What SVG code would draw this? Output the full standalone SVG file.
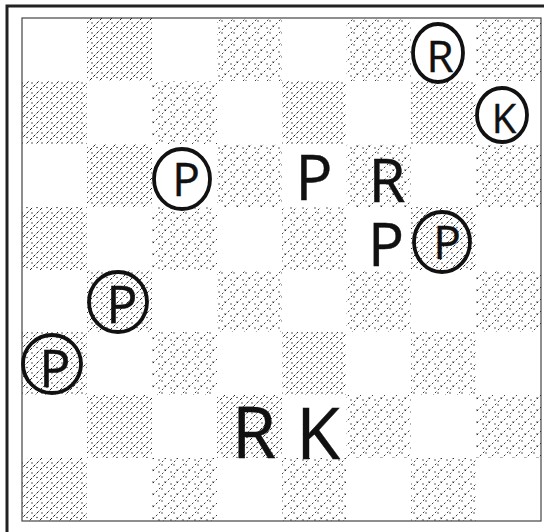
<svg xmlns="http://www.w3.org/2000/svg" width="544" height="532" viewBox="0 0 544 532">
<defs>
<pattern id="hA" width="10" height="10" patternUnits="userSpaceOnUse">
<path d="M0,10 L10,0 M-2.5,2.5 L2.5,-2.5 M7.5,12.5 L12.5,7.5" stroke="#222" stroke-width="1" stroke-dasharray="3 1.6" fill="none"/>
<circle cx="2" cy="3" r="0.7" fill="#222"/>
<circle cx="7" cy="7.5" r="0.7" fill="#222"/>
</pattern>
<pattern id="hB" width="12" height="12" patternUnits="userSpaceOnUse">
<path d="M0,12 L12,0 M-3,3 L3,-3 M9,15 L15,9" stroke="#222" stroke-width="0.9" stroke-dasharray="2 2.2" fill="none"/>
<circle cx="3" cy="4" r="0.7" fill="#222"/>
<circle cx="9" cy="2" r="0.7" fill="#222"/>
<circle cx="6" cy="9" r="0.7" fill="#222"/>
</pattern>
</defs>
<style>
.dk{fill:url(#hA);stroke:none}
.dk2{fill:url(#hB);stroke:none}
.ring{fill:none;stroke:#111;stroke-width:3.8}
.pc{font-family:"Open Sans","Liberation Sans",sans-serif;font-weight:400;fill:#111;stroke:#111;stroke-width:0.4;text-anchor:middle}
</style>
<rect x="0" y="0" width="544" height="532" fill="#fff"/>
<g id="frame">
<path d="M7,532 L7,6 L544,6" fill="none" stroke="#222" stroke-width="3"/>
<rect x="22" y="18" width="519" height="503" fill="none" stroke="#444" stroke-width="1.2"/>
</g>
<g id="squares">
<rect class="dk" x="87" y="18" width="65" height="63"/>
<rect class="dk2" x="217" y="18" width="65" height="63"/>
<rect class="dk2" x="346" y="18" width="65" height="63"/>
<rect class="dk2" x="476" y="18" width="65" height="63"/>
<rect class="dk" x="22" y="81" width="65" height="63"/>
<rect class="dk2" x="152" y="81" width="65" height="63"/>
<rect class="dk" x="282" y="81" width="64" height="63"/>
<rect class="dk" x="411" y="81" width="65" height="63"/>
<rect class="dk" x="87" y="144" width="65" height="63"/>
<rect class="dk2" x="217" y="144" width="65" height="63"/>
<rect class="dk2" x="346" y="144" width="65" height="63"/>
<rect class="dk2" x="476" y="144" width="65" height="63"/>
<rect class="dk" x="22" y="207" width="65" height="63"/>
<rect class="dk2" x="152" y="207" width="65" height="63"/>
<rect class="dk2" x="282" y="207" width="64" height="63"/>
<rect class="dk" x="411" y="207" width="65" height="63"/>
<rect class="dk" x="87" y="270" width="65" height="62"/>
<rect class="dk2" x="217" y="270" width="65" height="62"/>
<rect class="dk2" x="346" y="270" width="65" height="62"/>
<rect class="dk2" x="476" y="270" width="65" height="62"/>
<rect class="dk" x="22" y="332" width="65" height="63"/>
<rect class="dk2" x="152" y="332" width="65" height="63"/>
<rect class="dk" x="282" y="332" width="64" height="63"/>
<rect class="dk2" x="411" y="332" width="65" height="63"/>
<rect class="dk" x="87" y="395" width="65" height="63"/>
<rect class="dk" x="217" y="395" width="65" height="63"/>
<rect class="dk2" x="346" y="395" width="65" height="63"/>
<rect class="dk2" x="476" y="395" width="65" height="63"/>
<rect class="dk" x="22" y="458" width="65" height="63"/>
<rect class="dk2" x="152" y="458" width="65" height="63"/>
<rect class="dk2" x="282" y="458" width="64" height="63"/>
<rect class="dk2" x="411" y="458" width="65" height="63"/>
</g>
<g id="pieces">
<g id="rook-circled"><ellipse class="ring" cx="438" cy="53" rx="25" ry="29"/><text class="pc" x="440" y="72" font-size="44">R</text></g>
<g id="king-circled"><ellipse class="ring" cx="502" cy="115" rx="25" ry="27"/><text class="pc" x="504" y="133" font-size="40">K</text></g>
<g id="pawn-c3"><ellipse class="ring" cx="182" cy="179" rx="28" ry="30"/><text class="pc" x="186" y="196" font-size="46">P</text></g>
<g id="pawn-e3"><text class="pc" x="314" y="200" font-size="62">P</text></g>
<g id="rook-f3"><text class="pc" x="387" y="202" font-size="60">R</text></g>
<g id="pawn-f4"><text class="pc" x="386" y="266" font-size="60">P</text></g>
<g id="pawn-g4"><ellipse class="ring" cx="442" cy="242" rx="28" ry="30"/><text class="pc" x="447" y="259" font-size="46">P</text></g>
<g id="pawn-b5"><ellipse class="ring" cx="118" cy="302" rx="29" ry="30"/><text class="pc" x="122" y="323" font-size="52">P</text></g>
<g id="pawn-a6"><ellipse class="ring" cx="52" cy="364" rx="29" ry="29"/><text class="pc" x="55" y="387" font-size="52">P</text></g>
<g id="rook-d8"><text class="pc" x="254" y="458" font-size="72">R</text></g>
<g id="king-e8"><text class="pc" x="318" y="459" font-size="72">K</text></g>
</g>
</svg>
